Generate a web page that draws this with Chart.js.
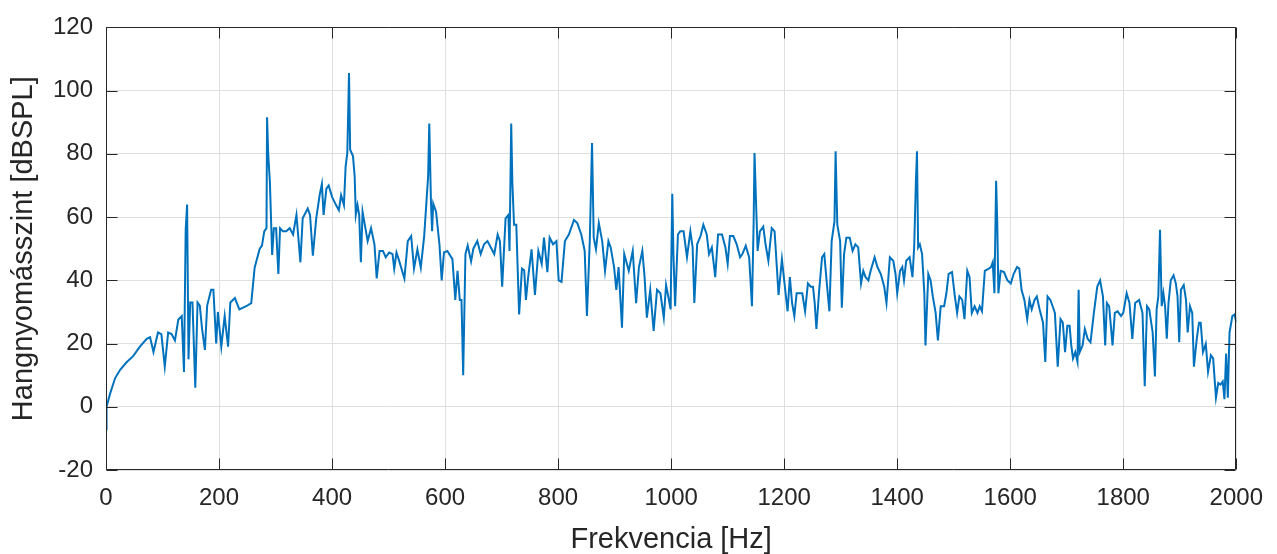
<!DOCTYPE html>
<html lang="hu">
<head>
<meta charset="UTF-8">
<title>Hangnyomásszint spektrum</title>
<script src="https://cdn.jsdelivr.net/npm/chart.js@4/dist/chart.umd.min.js"></script>
<style>
    html, body { margin: 0; padding: 0; background: #fff; }
    #wrap { width: 1277px; height: 554px; }
</style>
</head>
<body>
<div id="wrap"><canvas id="spectrumChart" width="1277" height="554"></canvas></div>
<script>
// ========================================
// Spectrum data
// ========================================

// Frequency of each sample [Hz]
const freqHz = [
    0, 1, 7, 16, 25, 36, 48, 60, 72, 78, 84, 92, 98, 104, 110, 116, 122, 128, 134, 138,
    141, 143.5, 146, 149, 153, 158, 162, 166, 170, 175, 179, 186, 190, 195, 198, 204, 210, 216, 220, 228,
    236, 248, 257, 263, 272, 276, 280, 284, 285, 287, 290, 294, 297, 301, 305, 308, 313, 319,
    325, 331, 337, 344, 348, 357, 361, 366, 372, 378, 382, 385, 390, 394, 400, 407, 412, 416, 421, 424,
    427, 430, 432, 437, 440, 442, 445, 448, 451, 454, 459, 463, 469, 475, 479, 484, 490, 495, 501, 507,
    510, 514, 519, 528, 534, 540, 545, 551, 557, 563, 567, 570, 572, 575, 577, 579, 584, 590, 594, 598,
    604, 613, 618, 622, 626, 629, 632, 636, 640, 646, 650, 657, 663, 669, 675,
    681, 687, 693, 697, 701, 707, 712, 714, 717, 719, 722, 726, 731, 736, 740, 743, 747, 753, 759, 765,
    771, 775, 781, 785, 791, 797, 801, 806, 812, 819, 828, 834, 841, 847, 851, 856, 860, 863, 867, 872,
    878, 883, 889, 893, 899, 903, 907, 913, 917, 925, 932, 938, 943, 949, 953, 957, 963, 969, 975, 981,
    987, 991, 996, 999, 1002, 1004, 1007, 1012,
    1016, 1022, 1028, 1034, 1038, 1041, 1046, 1052, 1057, 1063, 1067, 1072, 1078, 1083, 1090, 1096, 1100, 1104, 1110, 1116,
    1122, 1126, 1132, 1138, 1143, 1146, 1147.5, 1150, 1153, 1157, 1163, 1167, 1172, 1178, 1183, 1187, 1190, 1196, 1200, 1206,
    1210, 1214, 1218, 1222, 1228, 1232, 1237, 1242, 1247, 1251, 1254, 1257, 1262, 1267, 1271, 1275, 1280, 1284, 1289, 1291,
    1294, 1299, 1302, 1306, 1310, 1316, 1321, 1326, 1331,
    1336, 1340, 1344, 1349, 1353, 1360, 1365, 1371, 1377, 1381, 1387, 1393, 1397, 1400, 1405, 1409, 1412, 1416, 1422, 1427,
    1430, 1433, 1435, 1437, 1440, 1444, 1448, 1450, 1455, 1459, 1463, 1468, 1472, 1477, 1483, 1487, 1491, 1497, 1502, 1506,
    1510, 1515, 1519, 1524, 1528, 1532, 1537, 1542, 1546, 1550, 1555, 1562, 1566, 1569, 1572, 1575, 1577, 1579, 1583, 1589,
    1595, 1601, 1606, 1612, 1616, 1620, 1625, 1630, 1634, 1638, 1643, 1647, 1652, 1658, 1662,
    1666, 1671, 1675, 1679, 1684, 1689, 1693, 1697, 1701, 1705, 1708, 1711, 1715, 1719, 1721, 1723, 1728, 1732, 1737, 1742,
    1748, 1754, 1759, 1764, 1768, 1771, 1775, 1781, 1785, 1790, 1796, 1800, 1806, 1811, 1816, 1821, 1828, 1834, 1838, 1842,
    1846, 1852, 1856, 1859, 1862, 1865, 1868, 1871, 1874, 1877, 1880, 1884, 1889, 1893, 1896, 1899, 1902, 1907, 1911, 1914,
    1918, 1922, 1925, 1930, 1934, 1937, 1941, 1946, 1950, 1955, 1959, 1964, 1968, 1972, 1976, 1979, 1982, 1985, 1988, 1993,
    1997, 2000
];

// Sound pressure level of each sample [dBSPL]
const levelDb = [
    -7, 0, 4, 9, 11.7, 14, 16, 19, 21.5, 22, 17.3, 23.5, 23, 12.7, 23.5, 23, 21, 27.6, 28.7, 11,
    56, 64, 15, 33, 33, 6, 33, 32, 24.6, 18, 32, 37, 37, 20, 30, 19, 28.7, 19, 33, 34.4,
    30.8, 31.8, 32.8, 44, 50, 51, 55.5, 56.5, 91.6, 80, 71, 48, 56.5, 56.5, 42, 56.5, 55.5, 55.5,
    56.5, 54.5, 60.7, 45.7, 59.6, 62.7, 60.7, 47.8, 59.6, 66.9, 70.5, 60.7, 69, 70, 66.4, 63.8, 62.2, 66.9, 63.8, 76,
    80.3, 105.6, 81.3, 79.3, 73, 60.7, 63.8, 60.7, 45.7, 61.7, 56.5, 52.4, 56.5, 51.4, 40.6, 49.3, 49.3, 47.3, 48.8, 48.3,
    43.7, 48.8, 46, 40.6, 52.4, 54, 43.7, 49.8, 44, 54, 64.8, 73, 89.6, 64.8, 55.5, 64.3, 61.7, 51.4, 40, 48.8,
    49.3, 46.7, 33.8, 43, 33.8, 33.8, 10, 48.3, 51, 46, 50, 52.4, 48.3, 51.4, 52.4,
    50.4, 48.3, 54.5, 52.4, 38, 59.6, 60.7, 49.3, 89.6, 71, 57.6, 57.6, 29.2, 43.7, 43.2, 33.8, 41, 49.8, 35.4, 49.3,
    45.2, 53.5, 42.6, 53.5, 51.4, 52.4, 40, 39.5, 52.4, 54.5, 59.1, 58.1, 54.5, 49.3, 28.7, 52.4, 83.4, 53.5, 49.8, 58.1,
    52.4, 43, 52.4, 50.4, 44.2, 37, 44.2, 25, 48.3, 43, 49.3, 32.8, 44.2, 49.3, 41, 28.2, 37, 24, 37, 35.9,
    28.2, 38.5, 33.8, 30.8, 67.4, 48.3, 31.8, 54.5,
    55.5, 55.5, 47.3, 55.5, 50.4, 32.8, 51.4, 54, 57.6, 54.5, 48.3, 50.4, 41, 54.5, 54.5, 50.4, 45.2, 54, 54, 51.4,
    47.3, 48.3, 50.9, 47.3, 31.8, 58.6, 80.3, 65.8, 49.3, 55.5, 57, 51.4, 46.2, 56.5, 55.5, 44.2, 35.4, 46.7, 40, 30.2,
    41, 32.8, 28.7, 35.9, 35.9, 35.9, 30.2, 39, 38, 38, 32.8, 24.6, 37, 47.3, 48.3, 40, 30.2, 52.4, 58.6, 80.8,
    57.6, 52.4, 31.3, 48.3, 53.5, 53.5, 49.3, 51.4, 50.4,
    39, 43, 41, 40, 43, 47.3, 44.2, 42, 38, 32.8, 47.3, 46.2, 42, 35.9, 43, 44.2, 40, 46.2, 47.3, 41,
    50.4, 71, 80.8, 50.4, 51.4, 48.3, 35.9, 19.4, 42, 40, 34.9, 29.7, 21, 31.8, 31.8, 35.9, 42, 42.6, 34.9, 29.7,
    34.9, 33.8, 27.7, 43, 41, 29.7, 31.8, 29.7, 31.8, 30.2, 43, 43.7, 44.2, 45.7, 35.9, 71.5, 58.6, 35.9, 43, 42.6,
    40, 39, 42, 44.2, 43.7, 37, 33.8, 27.7, 33.8, 30.8, 33.8, 34.9, 30.8, 26.6, 14.2,
    34.9, 33.8, 31.8, 29.7, 12.7, 27.7, 26.6, 17.3, 25.6, 25.6, 19.4, 15.3, 17.3, 14.2, 37, 17.3, 19.4, 24.6, 21.5, 20.4,
    29.7, 38, 40, 34.9, 19.4, 32.8, 31.8, 19.4, 29.7, 30.2, 28.7, 29.7, 35.9, 32.8, 21.5, 32.8, 33.8, 29.7, 6.5, 31.8,
    30.8, 23.5, 9.6, 30.8, 34.9, 56, 31.8, 35.9, 31.8, 21.5, 32.8, 40, 41.6, 39, 34.9, 20.4, 37, 38.5, 33.8, 23.5,
    31.8, 29.7, 12.7, 21.5, 26.6, 26.6, 17.3, 19.9, 11.1, 16.3, 15.3, 2.9, 7.5, 7, 8, 2.4, 16.8, 2.9, 23.5, 28.7,
    29.2, 26.6
];

// Axis ranges and labels
const xRange = [0, 2000];
const xStep = 200;
const yRange = [-20, 120];
const yStep = 20;
const xTitle = 'Frekvencia [Hz]';
const yTitle = 'Hangnyomásszint [dBSPL]';

const axisColor = '#262626';
const gridColor = '#dfdfdf';
const lineColor = '#0072BD';
const fontFamily = "'Liberation Sans', Arial, Helvetica, sans-serif";

// MATLAB-like box with inward tick marks on all four sides
const matlabBox = {
    id: 'matlabBox',
    afterDraw(chart) {
        const { ctx, chartArea: a, scales: { x, y } } = chart;
        const len = 11;
        const left = Math.round(a.left) + 0.5;
        const right = Math.round(a.right) - 0.5;
        const top = Math.round(a.top) + 0.5;
        const bottom = Math.round(a.bottom) - 0.5;

        ctx.save();
        ctx.strokeStyle = axisColor;
        ctx.lineWidth = 1;
        ctx.beginPath();
        x.ticks.forEach(t => {
            const px = Math.round(x.getPixelForValue(t.value)) + 0.5;
            ctx.moveTo(px, bottom);
            ctx.lineTo(px, bottom - len);
            ctx.moveTo(px, top);
            ctx.lineTo(px, top + len);
        });
        y.ticks.forEach(t => {
            const py = Math.round(y.getPixelForValue(t.value)) + 0.5;
            ctx.moveTo(left, py);
            ctx.lineTo(left + len, py);
            ctx.moveTo(right, py);
            ctx.lineTo(right - len, py);
        });
        ctx.rect(left, top, right - left, bottom - top);
        ctx.stroke();
        ctx.restore();
    }
};

const points = freqHz.map((f, i) => ({ x: f, y: levelDb[i] }));

new Chart(document.getElementById('spectrumChart'), {
    type: 'line',
    data: {
        datasets: [{
            data: points,
            borderColor: lineColor,
            borderWidth: 2,
            pointRadius: 0,
            tension: 0,
            fill: false
        }]
    },
    options: {
        responsive: false,
        animation: false,
        devicePixelRatio: 1,
        layout: { padding: { top: 18, right: 38, bottom: 0, left: 0 } },
        plugins: {
            legend: { display: false },
            tooltip: { enabled: false }
        },
        scales: {
            x: {
                type: 'linear',
                min: xRange[0],
                max: xRange[1],
                afterFit: scale => { scale.height = 84; },
                grid: { color: gridColor, drawTicks: false },
                border: { display: false },
                ticks: {
                    stepSize: xStep,
                    autoSkip: false,
                    maxRotation: 0,
                    padding: 14,
                    color: axisColor,
                    font: { family: fontFamily, size: 24 },
                    callback: v => String(v)
                },
                title: {
                    display: true,
                    text: xTitle,
                    color: axisColor,
                    font: { family: fontFamily, size: 29, lineHeight: 1 },
                    padding: { top: 0, bottom: 0 }
                }
            },
            y: {
                min: yRange[0],
                max: yRange[1],
                afterFit: scale => { scale.width = 106; },
                grid: { color: gridColor, drawTicks: false },
                border: { display: false },
                ticks: {
                    stepSize: yStep,
                    autoSkip: false,
                    padding: 13,
                    color: axisColor,
                    font: { family: fontFamily, size: 24 },
                    callback: v => String(v)
                },
                title: {
                    display: true,
                    text: yTitle,
                    color: axisColor,
                    font: { family: fontFamily, size: 29, lineHeight: 1 },
                    padding: { top: 9, bottom: 0 }
                }
            }
        }
    },
    plugins: [matlabBox]
});
</script>
</body>
</html>
